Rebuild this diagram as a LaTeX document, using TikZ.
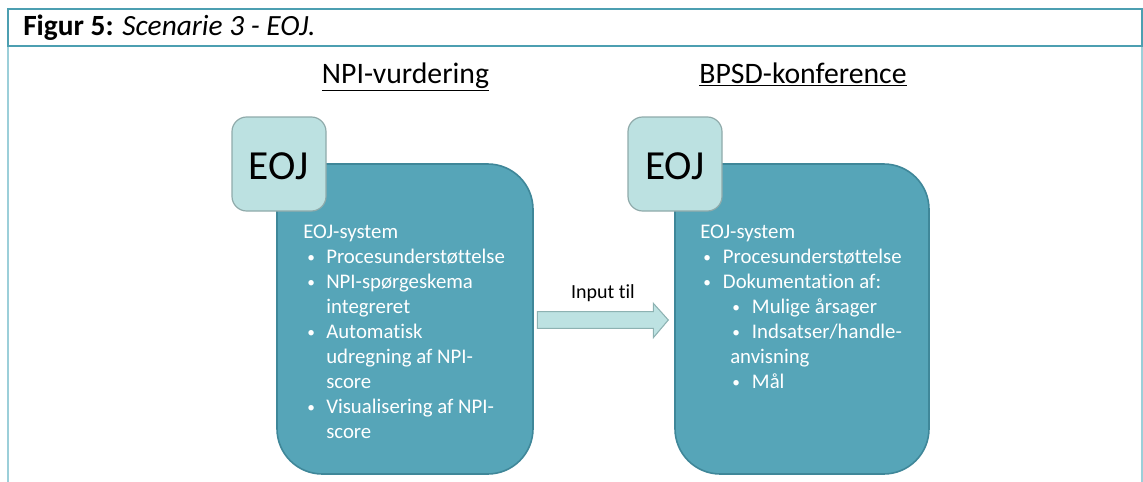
\documentclass[tikz,border=0pt]{standalone}
\usepackage{fontspec}
\setmainfont{Carlito}[Ligatures={NoCommon}]
\usetikzlibrary{calc}
\newcommand{\bul}{{\fontsize{11.5}{12}\selectfont\raisebox{0.6pt}{•}}}
\begin{document}
\begin{tikzpicture}[x=0.75pt,y=-0.75pt,
  bigbox/.style={draw=boxedge,fill=boxfill,line width=1.2pt,rounded corners=34pt},
  eojbox/.style={draw=eojedge,fill=eojfill,line width=0.9pt,rounded corners=11pt},
  boxtxt/.style={anchor=base west,inner sep=0pt,text=white,font=\fontsize{15.6}{18}\selectfont},
  head/.style={anchor=base,inner sep=0pt,font=\fontsize{22.3}{25}\selectfont}]
\definecolor{boxfill}{HTML}{56A5B8}
\definecolor{boxedge}{HTML}{3F8799}
\definecolor{eojfill}{HTML}{BCE1E1}
\definecolor{eojedge}{HTML}{8FAAAA}
\definecolor{frame}{HTML}{4C9FB1}
\definecolor{framelight}{HTML}{9CCFD9}
\definecolor{arrfill}{HTML}{BDE2E2}
\definecolor{arredge}{HTML}{8DB2B2}
\useasboundingbox (0,0) rectangle (1143,482);
% frame
\draw[framelight,line width=1.5pt] (8,46) -- (8,490) (1142,46) -- (1142,490);
\draw[frame,line width=1.5pt] (8,9) rectangle (1142,46);
\node[anchor=base west,inner sep=0pt,font=\fontsize{22}{24}\selectfont] (title) at (23,35.5) {\textbf{Figur 5:} \textit{Scenarie 3 - EOJ.}};
% headings
\node[head] (h1) at (405.5,83.3) {\underline{NPI-vurdering}};
\node[head] (h2) at (803,83.3) {\underline{BPSD-konference}};
% left group
\draw[bigbox] (277,164) coordinate (lnw) rectangle (533,474) coordinate (lse);
\draw[eojbox] (232,117) rectangle (326,211);
\node[inner sep=0pt,font=\fontsize{31}{34}\selectfont] (leoj) at (278.5,166) {EOJ};
% right group
\draw[bigbox] (675,164) coordinate (rnw) rectangle (929,474) coordinate (rse);
\draw[eojbox] (628,117) rectangle (722,211);
\node[inner sep=0pt,font=\fontsize{31}{34}\selectfont] (reoj) at (675,166) {EOJ};
% left text
\node[boxtxt] (l1) at (303,238.3) {EOJ-system};
\node[boxtxt] (l2b) at (307,263) {\bul};
\node[boxtxt] (l2) at (326,263) {Procesunderstøttelse};
\node[boxtxt] (l3b) at (307,288) {\bul};
\node[boxtxt] (l3) at (326,288) {NPI-spørgeskema};
\node[boxtxt] (l4) at (326,313) {integreret};
\node[boxtxt] (l5b) at (307,338) {\bul};
\node[boxtxt] (l5) at (326,338) {Automatisk};
\node[boxtxt] (l6) at (326,363) {udregning af NPI-};
\node[boxtxt] (l7) at (326,388) {score};
\node[boxtxt] (l8b) at (307,413) {\bul};
\node[boxtxt] (l8) at (326,413) {Visualisering af NPI-};
\node[boxtxt] (l9) at (326,438) {score};
% right text
\node[boxtxt] (r1) at (700,238.3) {EOJ-system};
\node[boxtxt] (r2b) at (703,263) {\bul};
\node[boxtxt] (r2) at (722.7,263) {Procesunderstøttelse};
\node[boxtxt] (r3b) at (703,288) {\bul};
\node[boxtxt] (r3) at (722.7,288) {Dokumentation af:};
\node[boxtxt] (r4b) at (732,313) {\bul};
\node[boxtxt] (r4) at (751.7,313) {Mulige årsager};
\node[boxtxt] (r5b) at (732,338) {\bul};
\node[boxtxt] (r5) at (751.7,338) {Indsatser/handle-};
\node[boxtxt] (r6) at (730,363) {anvisning};
\node[boxtxt] (r7b) at (732,388) {\bul};
\node[boxtxt] (r7) at (751.7,388) {Mål};
% arrow
\coordinate (as) at (537.3,320);
\coordinate (at) at (668.3,320);
\draw[fill=arrfill,draw=arredge,line width=0.8pt]
  ($(as)+(0,-8.3)$) -- (653.3,311.7) -- (653.3,303.3) -- (at) -- (653.3,337.7) -- (653.3,328.3) -- ($(as)+(0,8.3)$) -- cycle;
\node[anchor=base,inner sep=0pt,font=\fontsize{15}{18}\selectfont] (inp) at (603,298) {Input til};
\end{tikzpicture}
\end{document}
